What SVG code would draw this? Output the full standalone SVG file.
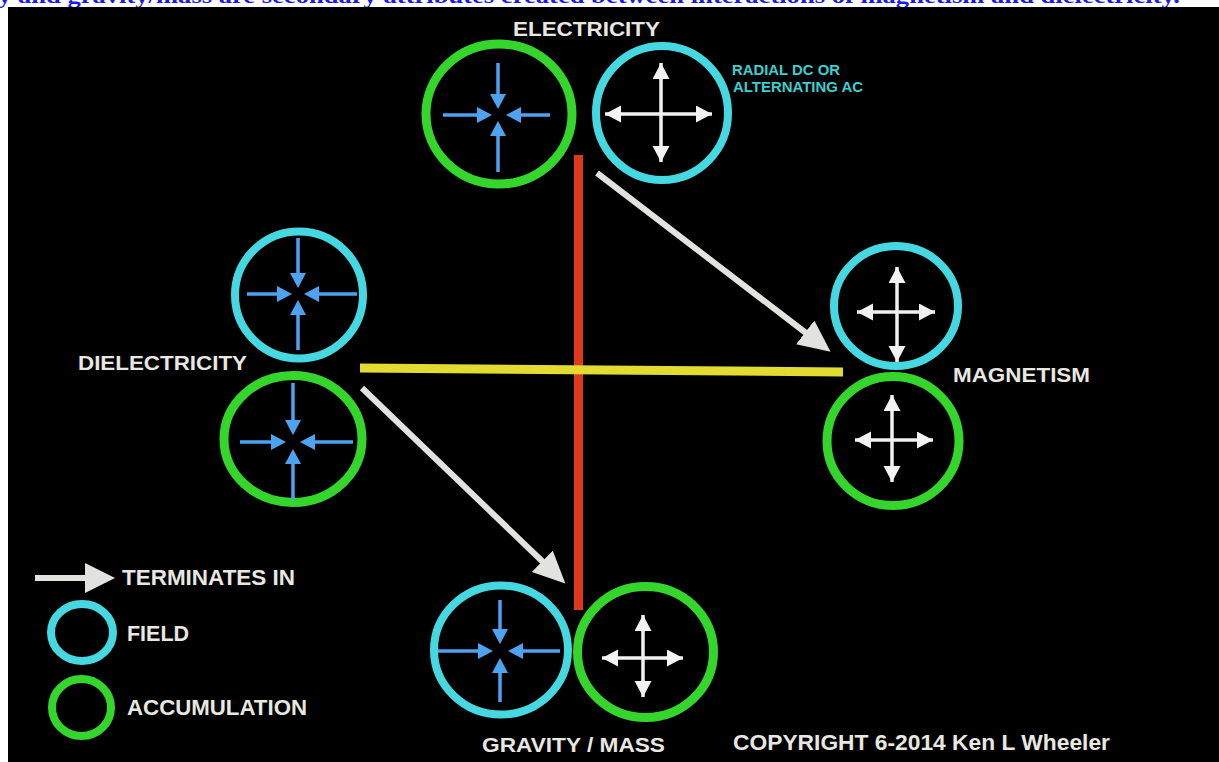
<svg xmlns="http://www.w3.org/2000/svg" width="1219" height="762" viewBox="0 0 1219 762">
<style>
.lbl{font-family:"Liberation Sans",Arial,sans-serif;font-weight:bold;fill:#e8e8e0;}
.rad{font-family:"Liberation Sans",Arial,sans-serif;font-weight:bold;fill:#3ccfcf;font-size:14px;}
.cy{fill:none;stroke:#45d8e0;stroke-width:8;}
.gr{fill:none;stroke:#35d62b;stroke-width:9;}
.ba{stroke:#4ea3f0;stroke-width:3.5;marker-end:url(#bh);}
.wa{stroke:#f2f2f2;stroke-width:3.5;marker-start:url(#wh);marker-end:url(#wh);}
.big{stroke:#e2e2de;stroke-width:6;marker-end:url(#bigh);}
</style>
<defs>
<marker id="bh" markerUnits="userSpaceOnUse" markerWidth="18" markerHeight="18" refX="1" refY="8" orient="auto"><path d="M0,0 L15,8 L0,16 z" fill="#4ea3f0"/></marker>
<marker id="wh" markerUnits="userSpaceOnUse" markerWidth="20" markerHeight="20" refX="16" refY="8.5" orient="auto-start-reverse"><path d="M0,0 L16,8.5 L0,17 z" fill="#f2f2f2"/></marker>
<marker id="bigh" markerUnits="userSpaceOnUse" markerWidth="34" markerHeight="32" refX="1" refY="15" orient="auto"><path d="M0,0 L32,15 L0,30 z" fill="#e2e2de"/></marker>
</defs>
<rect x="0" y="0" width="1219" height="762" fill="#ffffff"/>
<text x="-2" y="3" font-family="'Liberation Serif','Times New Roman',serif" font-weight="bold" font-size="22" fill="#1a1aee" textLength="1182" lengthAdjust="spacingAndGlyphs">y and gravity/mass are secondary attributes created between interactions of magnetism and dielectricity.</text>
<rect x="8" y="7" width="1211" height="755" fill="#000000"/>

<g id="connectors">
<rect x="574" y="155" width="9" height="455" fill="#e0381c"/>
<line x1="360" y1="368" x2="843" y2="372" stroke="#e2dc32" stroke-width="9"/>
<line class="big" x1="597" y1="173" x2="806" y2="333"/>
<line class="big" x1="362" y1="388" x2="543" y2="562"/>
</g>

<g id="electricity">
<text class="lbl" x="513" y="36" font-size="21" textLength="147" lengthAdjust="spacingAndGlyphs">ELECTRICITY</text>
<ellipse class="gr" cx="499" cy="114" rx="73" ry="70"/>
<line class="ba" x1="498" y1="63" x2="498" y2="95"/>
<line class="ba" x1="443" y1="115" x2="478" y2="115"/>
<line class="ba" x1="550" y1="115" x2="520" y2="115"/>
<line class="ba" x1="498" y1="172" x2="498" y2="135"/>
<ellipse class="cy" cx="662" cy="113" rx="66" ry="67"/>
<line class="wa" x1="661" y1="63" x2="661" y2="162"/>
<line class="wa" x1="605" y1="114" x2="712" y2="114"/>
<text class="rad" x="732" y="75" textLength="108" lengthAdjust="spacingAndGlyphs">RADIAL DC OR</text>
<text class="rad" x="733" y="91.5" textLength="130" lengthAdjust="spacingAndGlyphs">ALTERNATING AC</text>
</g>

<g id="dielectricity">
<text class="lbl" x="78" y="370" font-size="21" textLength="169" lengthAdjust="spacingAndGlyphs">DIELECTRICITY</text>
<ellipse class="cy" cx="299" cy="295" rx="64" ry="63.5"/>
<line class="ba" x1="298" y1="238" x2="298" y2="274"/>
<line class="ba" x1="247" y1="294" x2="278" y2="294"/>
<line class="ba" x1="357" y1="294" x2="318" y2="294"/>
<line class="ba" x1="298" y1="350" x2="298" y2="314"/>
<ellipse class="gr" cx="293" cy="439" rx="69" ry="63.5"/>
<line class="ba" x1="293" y1="383" x2="293" y2="421"/>
<line class="ba" x1="240" y1="442" x2="272" y2="442"/>
<line class="ba" x1="353" y1="442" x2="314" y2="442"/>
<line class="ba" x1="293" y1="500" x2="293" y2="463"/>
</g>

<g id="magnetism">
<ellipse class="cy" cx="896" cy="306" rx="62" ry="60"/>
<line class="wa" x1="897" y1="267" x2="897" y2="362"/>
<line class="wa" x1="857" y1="312" x2="935" y2="312"/>
<ellipse class="gr" cx="893" cy="441" rx="66" ry="64.5"/>
<line class="wa" x1="892" y1="395" x2="892" y2="482"/>
<line class="wa" x1="855" y1="440" x2="933" y2="440"/>
<text class="lbl" x="953" y="381.5" font-size="21" textLength="137" lengthAdjust="spacingAndGlyphs">MAGNETISM</text>
</g>

<g id="gravity-mass">
<ellipse class="cy" cx="501" cy="650" rx="67" ry="64.5"/>
<line class="ba" x1="500" y1="600" x2="500" y2="630"/>
<line class="ba" x1="438" y1="651" x2="479" y2="651"/>
<line class="ba" x1="560" y1="651" x2="522" y2="651"/>
<line class="ba" x1="500" y1="702" x2="500" y2="672"/>
<ellipse class="gr" cx="645.5" cy="652" rx="68" ry="65.5"/>
<line class="wa" x1="643" y1="615" x2="643" y2="697"/>
<line class="wa" x1="602" y1="658" x2="683" y2="658"/>
<text class="lbl" x="482" y="751.5" font-size="21" textLength="183" lengthAdjust="spacingAndGlyphs">GRAVITY / MASS</text>
</g>

<g id="legend">
<line x1="35" y1="578" x2="86" y2="578" stroke="#e2e2de" stroke-width="6"/>
<path d="M85,563 L115,578 L85,593 z" fill="#e2e2de"/>
<text class="lbl" x="122" y="585" font-size="22" textLength="173" lengthAdjust="spacingAndGlyphs">TERMINATES IN</text>
<ellipse class="cy" cx="82" cy="632.5" rx="31" ry="28.5"/>
<text class="lbl" x="127" y="641" font-size="22" textLength="62" lengthAdjust="spacingAndGlyphs">FIELD</text>
<ellipse class="gr" cx="81.5" cy="707.5" rx="29.5" ry="28.5" style="stroke-width:8"/>
<text class="lbl" x="127" y="715" font-size="22" textLength="180" lengthAdjust="spacingAndGlyphs">ACCUMULATION</text>
</g>

<g id="copyright">
<text class="lbl" x="733" y="750" font-size="22" textLength="377" lengthAdjust="spacingAndGlyphs">COPYRIGHT 6-2014 Ken L Wheeler</text>
</g>
</svg>
